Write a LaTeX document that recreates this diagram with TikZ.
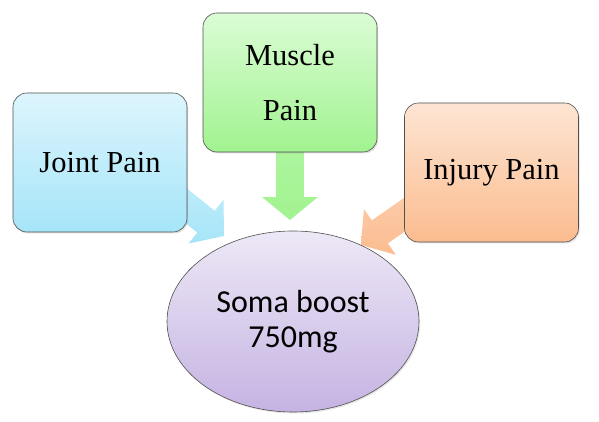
\documentclass[tikz,border=0pt]{standalone}
\usepackage{fontspec}
\setmainfont{Liberation Serif}
\newfontfamily\somafont{Carlito}
\usetikzlibrary{calc,shapes.geometric,shadows,backgrounds}

\definecolor{edgegray}{HTML}{505050}
\definecolor{jointtop}{HTML}{DDF5FD}
\definecolor{jointbot}{HTML}{A5E5F8}
\definecolor{muscletop}{HTML}{DBFCD5}
\definecolor{musclebot}{HTML}{A1F390}
\definecolor{injurytop}{HTML}{FDE5D3}
\definecolor{injurybot}{HTML}{FBBC8F}
\definecolor{somatop}{HTML}{EDE8F6}
\definecolor{somabot}{HTML}{C5B3E2}

\begin{document}
\begin{tikzpicture}[x=1pt,y=1pt,
  painbox/.style={draw=edgegray,line width=0.6pt,rounded corners=14pt,
    minimum width=174pt,minimum height=139pt,inner sep=0pt,align=center,
    font=\fontsize{30.5}{55}\selectfont,
    drop shadow={shadow xshift=1.2pt,shadow yshift=-1.5pt,opacity=0.25}},
  blockarrow/.style={to path={
    ($(\tikztostart)!14pt!90:(\tikztotarget)$)
    -- ($(\tikztotarget)!26.9pt!-31.3:(\tikztostart)$)
    -- ($(\tikztotarget)!36.2pt!-50.6:(\tikztostart)$)
    -- (\tikztotarget)
    -- ($(\tikztotarget)!36.2pt!50.6:(\tikztostart)$)
    -- ($(\tikztotarget)!26.9pt!31.3:(\tikztostart)$)
    -- ($(\tikztostart)!14pt!-90:(\tikztotarget)$) -- cycle}}]
  \useasboundingbox (0,0) rectangle (599,422);
  \node[painbox,top color=jointtop,bottom color=jointbot] (joint) at (100,259.5) {Joint Pain};
  \node[painbox,top color=muscletop,bottom color=musclebot] (muscle) at (290,339.5) {Muscle\\Pain};
  \node[painbox,top color=injurytop,bottom color=injurybot] (injury) at (491.5,249.5) {Injury Pain};
  \node[ellipse,draw=edgegray,line width=0.6pt,minimum width=252pt,minimum height=181pt,
    inner sep=0pt,align=center,top color=somatop,bottom color=somabot,
    drop shadow={shadow xshift=1.2pt,shadow yshift=-1.5pt,opacity=0.2},
    font=\somafont\fontsize{32}{35}\selectfont] (soma) at (293,100.5) {Soma boost\\750mg};
  % arrow tails sit under the boxes
  \coordinate (jointfoot) at ([xshift=32pt]joint.center);
  \coordinate (injuryfoot) at ([xshift=-26.5pt]injury.center);
  \coordinate (jointtip) at (224,186);
  \coordinate (muscletip) at (290,202);
  \coordinate (injurytip) at (361,177);
  \begin{pgfonlayer}{background}
    \path[blockarrow,top color=jointtop!70!jointbot,bottom color=jointbot] (jointfoot) to (jointtip);
    \path[blockarrow,top color=muscletop!40!musclebot,bottom color=musclebot] (muscle) to (muscletip);
    \path[blockarrow,top color=injurytop!60!injurybot,bottom color=injurybot] (injuryfoot) to (injurytip);
  \end{pgfonlayer}
\end{tikzpicture}
\end{document}
